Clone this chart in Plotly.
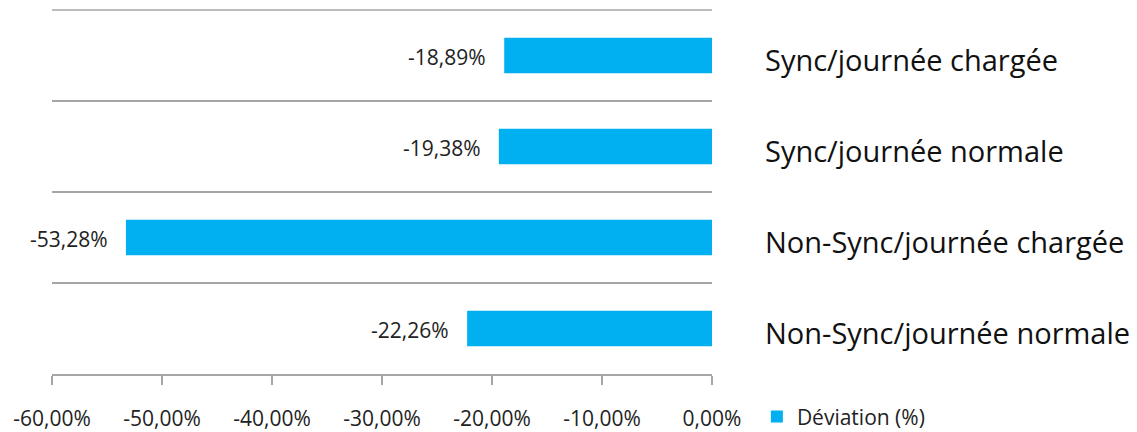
import plotly.graph_objects as go

categories = ["Non-Sync/journée normale", "Non-Sync/journée chargée",
              "Sync/journée normale", "Sync/journée chargée"]
deviation = [-22.26, -53.28, -19.38, -18.89]
x_ticks = [-60, -50, -40, -30, -20, -10, 0]
series_name = "Déviation (%)"


def fr_pct(v):
    return f"{v:.2f}%".replace(".", ",")


fig = go.Figure()
fig.add_trace(go.Bar(
    y=categories, x=deviation, orientation="h", name=series_name,
    marker=dict(color="#00B0F0", line=dict(width=0)),
    width=0.39,
))

for cat, v in zip(categories, deviation):
    fig.add_annotation(
        x=v, y=cat, xref="x", yref="y", text=fr_pct(v),
        showarrow=False, xanchor="right", yanchor="middle", xshift=-16, yshift=-1,
        font=dict(family="Open Sans", size=21, color="#222222"),
    )

fig.add_shape(type="line", xref="paper", yref="paper", x0=0, x1=1, y0=1, y1=1,
              line=dict(color="#A6A6A6", width=1.5))

# page body has an 8px margin, so the figure is offset accordingly
fig.update_layout(
    width=1129, height=424,
    margin=dict(l=44, r=425, t=2, b=58, autoexpand=False),
    plot_bgcolor="white", paper_bgcolor="white",
    font=dict(family="Open Sans", color="#222222"),
    showlegend=True,
    legend=dict(x=1.068, y=-0.118, xanchor="left", yanchor="middle",
                font=dict(size=21, family="Open Sans"), itemwidth=30,
                bgcolor="rgba(0,0,0,0)"),
)
fig.update_xaxes(
    range=[-60, 0], tickvals=x_ticks, ticktext=[fr_pct(t) for t in x_ticks],
    showgrid=False, zeroline=False, automargin=False,
    showline=True, linecolor="#A6A6A6", linewidth=1.5,
    ticks="outside", ticklen=9, tickcolor="#A6A6A6", tickwidth=1.5,
    tickfont=dict(size=21, family="Open Sans"), ticklabelstandoff=16,
)
fig.update_yaxes(
    side="right", categoryorder="array", categoryarray=categories,
    tickson="boundaries", showgrid=True, gridcolor="#A6A6A6", gridwidth=1.5,
    ticks="", showline=False, zeroline=False, automargin=False,
    tickfont=dict(size=29, family="Open Sans", color="#111111"),
    ticklabelstandoff=52, ticklabelshift=5,
)

fig.write_html("out.html")
